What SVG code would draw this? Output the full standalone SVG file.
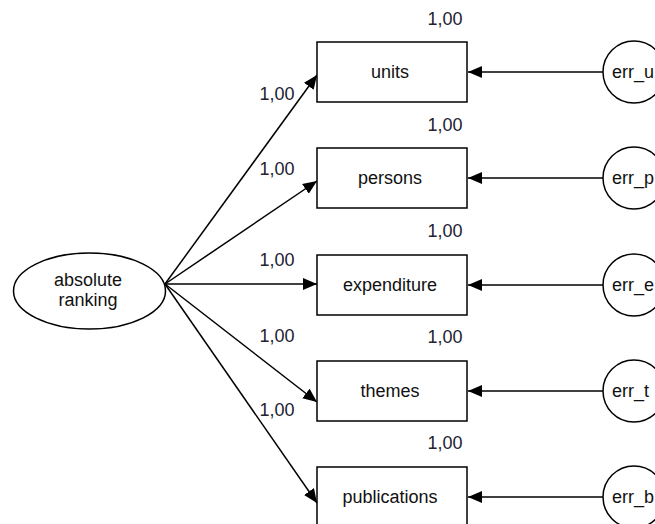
<svg xmlns="http://www.w3.org/2000/svg" width="655" height="524" viewBox="0 0 655 524">
<defs>
<marker id="arr" markerUnits="userSpaceOnUse" markerWidth="15" markerHeight="13" refX="14" refY="6" orient="auto">
<path d="M0,0 L14,6 L0,12 z" fill="#000"/>
</marker>
<style>
.box{fill:#fff;stroke:#000;stroke-width:1.5}
.t{font-family:"Liberation Sans",Arial,sans-serif;font-size:18px;fill:#111;text-anchor:middle}
.lbl{font-family:"Liberation Sans",Arial,sans-serif;font-size:18px;fill:#223;text-anchor:middle}
.e{text-anchor:start}
.c line{stroke:#000;stroke-width:1.5;marker-end:url(#arr)}
</style>
</defs>
<g class="c" id="connectors">
<line x1="165" y1="284" x2="317" y2="75"/>
<line x1="165" y1="284" x2="317" y2="181"/>
<line x1="165" y1="284" x2="317" y2="284"/>
<line x1="165" y1="284" x2="317" y2="402"/>
<line x1="165" y1="284" x2="317" y2="503"/>
<line x1="603" y1="72" x2="468" y2="72"/>
<line x1="603" y1="178" x2="468" y2="178"/>
<line x1="603" y1="285" x2="468" y2="285"/>
<line x1="603" y1="391" x2="468" y2="391"/>
<line x1="603" y1="497" x2="468" y2="497"/>
</g>
<g id="absolute_ranking">
<ellipse class="box" cx="89.5" cy="291" rx="76" ry="38"/>
<text class="t" x="88" y="286">absolute</text>
<text class="t" x="88" y="306">ranking</text>
</g>
<g id="units">
<rect class="box" x="317" y="42" width="150" height="60"/>
<text class="t" x="390" y="78">units</text>
<text class="lbl" x="445" y="25">1,00</text>
<text class="lbl" x="277" y="100">1,00</text>
</g>
<g id="persons">
<rect class="box" x="317" y="148" width="150" height="60"/>
<text class="t" x="390" y="184">persons</text>
<text class="lbl" x="445" y="131">1,00</text>
<text class="lbl" x="277" y="175">1,00</text>
</g>
<g id="expenditure">
<rect class="box" x="317" y="255" width="150" height="60"/>
<text class="t" x="390" y="291">expenditure</text>
<text class="lbl" x="445" y="237">1,00</text>
<text class="lbl" x="277" y="266">1,00</text>
</g>
<g id="themes">
<rect class="box" x="317" y="361" width="150" height="60"/>
<text class="t" x="390" y="397">themes</text>
<text class="lbl" x="445" y="343">1,00</text>
<text class="lbl" x="277" y="342">1,00</text>
</g>
<g id="publications">
<rect class="box" x="317" y="467" width="150" height="60"/>
<text class="t" x="390" y="503">publications</text>
<text class="lbl" x="445" y="449">1,00</text>
<text class="lbl" x="277" y="416">1,00</text>
</g>
<g id="err_u">
<circle class="box" cx="634" cy="72" r="31"/>
<text class="t e" x="612" y="78">err_u</text>
</g>
<g id="err_p">
<circle class="box" cx="634" cy="178" r="31"/>
<text class="t e" x="612" y="184">err_p</text>
</g>
<g id="err_e">
<circle class="box" cx="634" cy="285" r="31"/>
<text class="t e" x="612" y="291">err_e</text>
</g>
<g id="err_t">
<circle class="box" cx="634" cy="391" r="31"/>
<text class="t e" x="612" y="397">err_t</text>
</g>
<g id="err_b">
<circle class="box" cx="634" cy="497" r="31"/>
<text class="t e" x="612" y="503">err_b</text>
</g>
</svg>
